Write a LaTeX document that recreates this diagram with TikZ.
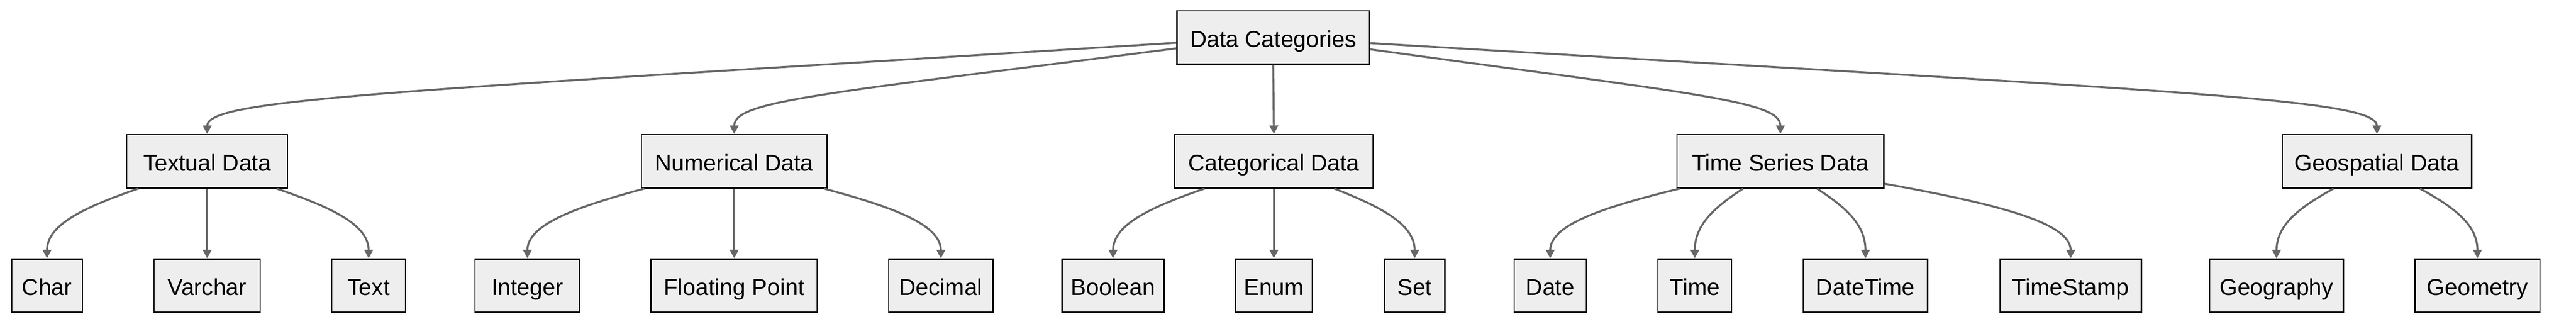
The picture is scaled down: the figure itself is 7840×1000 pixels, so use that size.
\documentclass[tikz,border=0pt]{standalone}
\usepackage{fontspec}
\setmainfont{Liberation Sans}
\usetikzlibrary{arrows.meta,calc}
\definecolor{boxfill}{RGB}{238,238,238}
\definecolor{edgegray}{RGB}{102,102,102}
\begin{document}
\begin{tikzpicture}[x=0.25pt,y=-0.25pt,
  box/.style={draw=black, line width=1pt, fill=boxfill, rectangle,
    minimum height=40.5pt, inner sep=0pt, text=black,
    text height=16pt, text depth=1.2pt,
    font=\fontsize{17.5}{21}\selectfont},
  edge/.style={draw=edgegray, line width=1.5pt,
    -{Triangle[length=6.5pt,width=6.5pt]}},
  curv/.style n args={3}{to path={let \p1=(\tikztostart), \p2=(\tikztotarget) in
    .. controls ({\x1+#1*(\x2-\x1)},{\y1+#2*(\y2-\y1)}) and ({\x2},{\y2-#3*(\y2-\y1)}) .. (\tikztotarget)}},
  upper/.style={curv={0.807}{0.536}{0.39}},
  lower/.style={curv={0.55}{0.25}{0.5}}]
\useasboundingbox (0,0) rectangle (7840,1000);

% root
\node[box, minimum width=146.5pt] (root) at (3875,114) {Data Categories};

% level 1
\node[box, minimum width=122.25pt] (textual) at (630.5,490.5) {Textual Data};
\node[box, minimum width=141.25pt] (numerical) at (2234.5,490.5) {Numerical Data};
\node[box, minimum width=151pt] (categorical) at (3877,490.5) {Categorical Data};
\node[box, minimum width=157.25pt] (timeseries) at (5418.5,490.5) {Time Series Data};
\node[box, minimum width=144pt] (geospatial) at (7234,490.5) {Geospatial Data};

% level 2
\node[box, minimum width=54pt] (char) at (143,868.5) {Char};
\node[box, minimum width=80.75pt] (varchar) at (630.5,868.5) {Varchar};
\node[box, minimum width=56pt] (text) at (1122,868.5) {Text};
\node[box, minimum width=79.5pt] (integer) at (1605,868.5) {Integer};
\node[box, minimum width=126.5pt] (floating) at (2234.5,868.5) {Floating Point};
\node[box, minimum width=79.25pt] (decimal) at (2863.5,868.5) {Decimal};
\node[box, minimum width=77.75pt] (boolean) at (3387.5,868.5) {Boolean};
\node[box, minimum width=58.5pt] (enum) at (3877,868.5) {Enum};
\node[box, minimum width=45.75pt] (set) at (4305.5,868.5) {Set};
\node[box, minimum width=55pt] (date) at (4718,868.5) {Date};
\node[box, minimum width=56pt] (time) at (5158,868.5) {Time};
\node[box, minimum width=94.75pt] (datetime) at (5677.5,868.5) {DateTime};
\node[box, minimum width=107.5pt] (timestamp) at (6302,868.5) {TimeStamp};
\node[box, minimum width=101.75pt] (geography) at (6928.5,868.5) {Geography};
\node[box, minimum width=95pt] (geometry) at (7540,868.5) {Geometry};

% start points on parent borders
\coordinate (sTex) at ($(root.west)+(0,16)$);
\coordinate (sNum) at ($(root.west)+(0,33)$);
\coordinate (sTim) at ($(root.east)+(0,36)$);
\coordinate (sGeo) at ($(root.east)+(0,17)$);

\coordinate (sChar) at ($(textual.south)+(-209.5,0)$);
\coordinate (sText) at ($(textual.south)+(211.5,0)$);
\coordinate (sInt) at ($(numerical.south)+(-273.5,0)$);
\coordinate (sDec) at ($(numerical.south)+(273.5,0)$);
\coordinate (sBool) at ($(categorical.south)+(-211,0)$);
\coordinate (sSet) at ($(categorical.south)+(184,0)$);
\coordinate (sDate) at ($(timeseries.south)+(-306.5,0)$);
\coordinate (sTime) at ($(timeseries.south)+(-113.5,0)$);
\coordinate (sDT) at ($(timeseries.south)+(111.5,0)$);
\coordinate (sTS) at ($(timeseries.east)+(0,68)$);
\coordinate (sGgr) at ($(geospatial.south)+(-132,0)$);
\coordinate (sGmt) at ($(geospatial.south)+(131,0)$);

% root edges
\draw[edge] (sTex) to[upper] (textual.north);
\draw[edge] (sNum) to[upper] (numerical.north);
\draw[edge] (root.south) -- (categorical.north);
\draw[edge] (sTim) to[upper] (timeseries.north);
\draw[edge] (sGeo) to[upper] (geospatial.north);

% level 2 edges
\draw[edge] (sChar) to[lower] (char.north);
\draw[edge] (textual.south) -- (varchar.north);
\draw[edge] (sText) to[lower] (text.north);
\draw[edge] (sInt) to[lower] (integer.north);
\draw[edge] (numerical.south) -- (floating.north);
\draw[edge] (sDec) to[lower] (decimal.north);
\draw[edge] (sBool) to[lower] (boolean.north);
\draw[edge] (categorical.south) -- (enum.north);
\draw[edge] (sSet) to[lower] (set.north);
\draw[edge] (sDate) to[lower] (date.north);
\draw[edge] (sTime) to[lower] (time.north);
\draw[edge] (sDT) to[lower] (datetime.north);
\draw[edge] (sTS) to[lower] (timestamp.north);
\draw[edge] (sGgr) to[lower] (geography.north);
\draw[edge] (sGmt) to[lower] (geometry.north);
\end{tikzpicture}
\end{document}
